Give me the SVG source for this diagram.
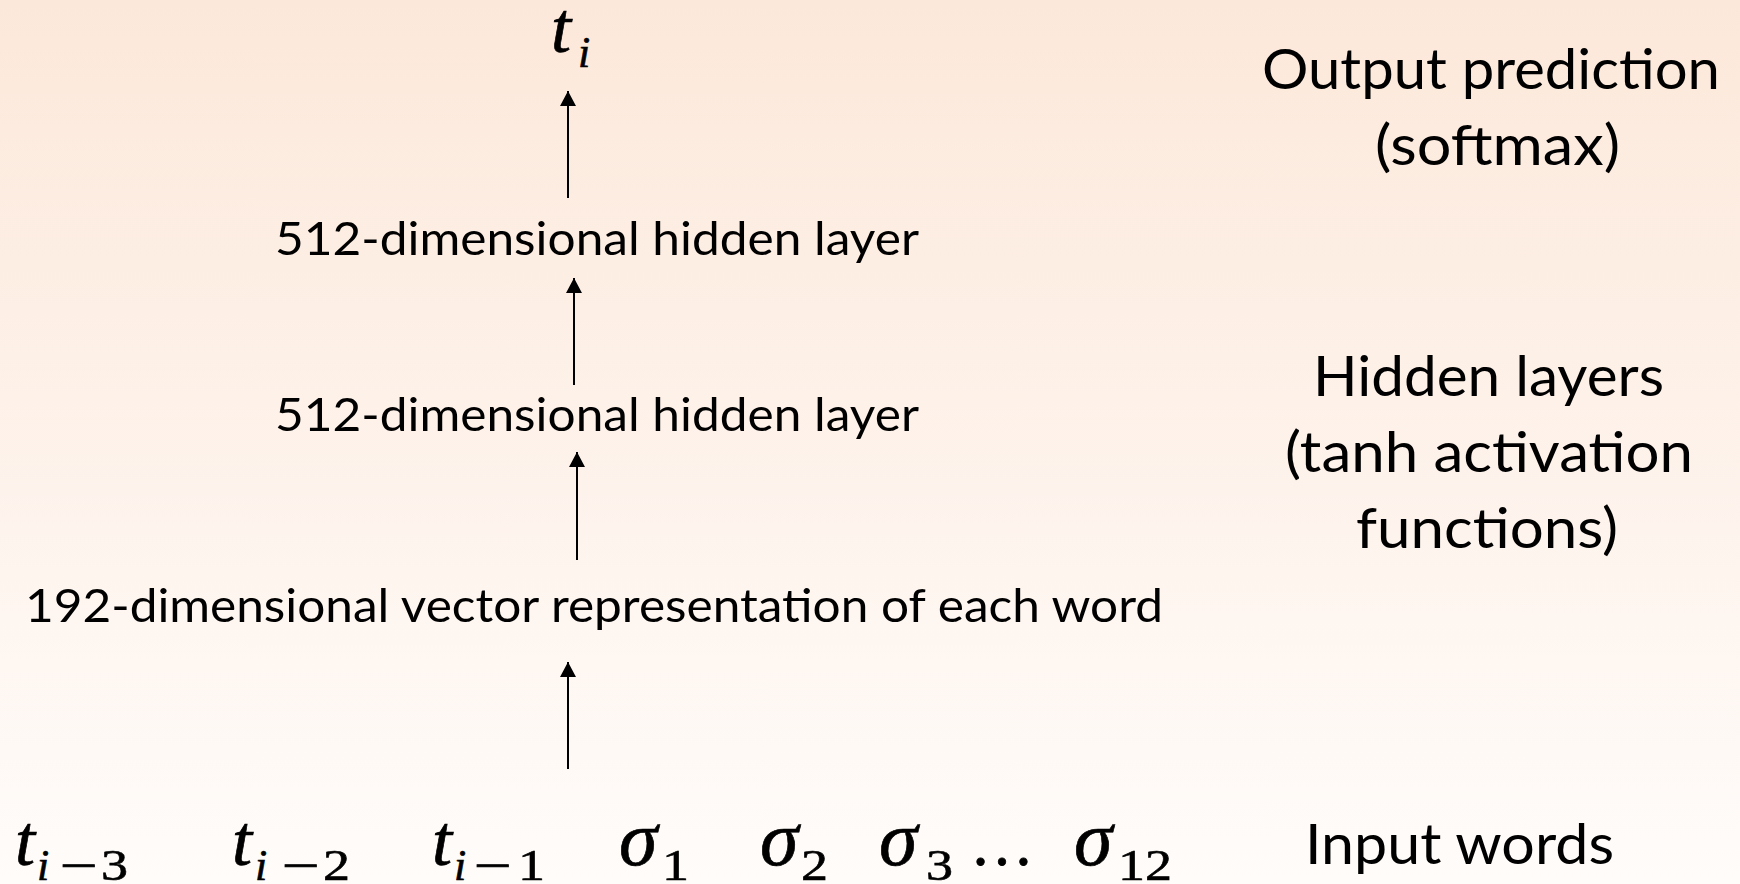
<svg xmlns="http://www.w3.org/2000/svg" width="1740" height="884" viewBox="0 0 1740 884">
  <defs>
    <linearGradient id="bg" x1="0" y1="0" x2="0" y2="1">
      <stop offset="0" stop-color="#FCE8DA"/>
      <stop offset="1" stop-color="#FFFCFA"/>
    </linearGradient>
    <marker id="ah" markerUnits="userSpaceOnUse" markerWidth="16" markerHeight="16" refX="15" refY="8" orient="auto">
      <path d="M0,0 L15,8 L0,16 z" fill="#000"/>
    </marker>
    <style>
      .lbl { font-family: "Lato", "Open Sans", "Liberation Sans", sans-serif; font-size: 47px; fill: #000; }
      .big { font-family: "Lato", "Open Sans", "Liberation Sans", sans-serif; font-size: 56px; fill: #000; }
      .m, .sub, .dots { font-family: "Liberation Serif", "DejaVu Serif", serif; fill: #000; stroke: #000; }
      .m { font-style: italic; font-size: 72px; stroke-width: 0.7; }
      .sg { font-style: italic; font-size: 78px; stroke-width: 0.7; }
      .s { font-size: 44px; font-style: italic; }
      .d { font-size: 44px; font-style: normal; }
      .sub { font-size: 44px; stroke-width: 0.6; }
      .mn { font-size: 46px; font-style: normal; }
      .dots { font-size: 64px; stroke-width: 0.8; }
      .conn line { stroke: #000; stroke-width: 2; marker-end: url(#ah); }
    </style>
  </defs>

  <rect x="0" y="0" width="1740" height="884" fill="url(#bg)"/>

  <g id="output-token">
    <text class="m" x="551" y="52">t</text>
    <text class="sub s" x="578" y="67">i</text>
  </g>

  <g id="hidden-layer-2">
    <text class="lbl" x="275" y="255" textLength="644" lengthAdjust="spacingAndGlyphs">512-dimensional hidden layer</text>
  </g>
  <g id="hidden-layer-1">
    <text class="lbl" x="275" y="431" textLength="644" lengthAdjust="spacingAndGlyphs">512-dimensional hidden layer</text>
  </g>
  <g id="embedding-layer">
    <text class="lbl" x="25" y="622" textLength="1138" lengthAdjust="spacingAndGlyphs">192-dimensional vector representation of each word</text>
  </g>

  <g id="input-words">
    <g id="in-t-i-3">
      <text class="m" x="15" y="865">t</text>
      <text class="sub s" x="37" y="880">i</text>
      <text class="sub mn" x="60" y="881" textLength="38" lengthAdjust="spacingAndGlyphs">−</text>
      <text class="sub d" x="101" y="880" textLength="27" lengthAdjust="spacingAndGlyphs">3</text>
    </g>
    <g id="in-t-i-2">
      <text class="m" x="232" y="865">t</text>
      <text class="sub s" x="255" y="880">i</text>
      <text class="sub mn" x="282" y="881" textLength="38" lengthAdjust="spacingAndGlyphs">−</text>
      <text class="sub d" x="323" y="880" textLength="27" lengthAdjust="spacingAndGlyphs">2</text>
    </g>
    <g id="in-t-i-1">
      <text class="m" x="432" y="865">t</text>
      <text class="sub s" x="454" y="880">i</text>
      <text class="sub mn" x="474" y="881" textLength="38" lengthAdjust="spacingAndGlyphs">−</text>
      <text class="sub d" x="518" y="880" textLength="27" lengthAdjust="spacingAndGlyphs">1</text>
    </g>
    <g id="in-sigma-1">
      <text class="m sg" x="619" y="865">σ</text>
      <text class="sub d" x="662" y="880" textLength="27" lengthAdjust="spacingAndGlyphs">1</text>
    </g>
    <g id="in-sigma-2">
      <text class="m sg" x="760" y="865">σ</text>
      <text class="sub d" x="801" y="880" textLength="27" lengthAdjust="spacingAndGlyphs">2</text>
    </g>
    <g id="in-sigma-3">
      <text class="m sg" x="879" y="865">σ</text>
      <text class="sub d" x="926" y="880" textLength="27" lengthAdjust="spacingAndGlyphs">3</text>
    </g>
    <g id="in-ellipsis">
      <text class="dots" x="970" y="865">…</text>
    </g>
    <g id="in-sigma-12">
      <text class="m sg" x="1074" y="865">σ</text>
      <text class="sub d" x="1118" y="880" textLength="54" lengthAdjust="spacingAndGlyphs">12</text>
    </g>
  </g>

  <g id="side-labels">
    <g id="lbl-output">
      <text class="big" x="1262" y="89" textLength="458" lengthAdjust="spacingAndGlyphs">Output prediction</text>
      <text class="big" x="1375" y="165" textLength="245" lengthAdjust="spacingAndGlyphs">(softmax)</text>
    </g>
    <g id="lbl-hidden">
      <text class="big" x="1313" y="396" textLength="351" lengthAdjust="spacingAndGlyphs">Hidden layers</text>
      <text class="big" x="1285" y="472" textLength="408" lengthAdjust="spacingAndGlyphs">(tanh activation</text>
      <text class="big" x="1356" y="548" textLength="262" lengthAdjust="spacingAndGlyphs">functions)</text>
    </g>
    <g id="lbl-input">
      <text class="big" x="1305" y="864" textLength="309" lengthAdjust="spacingAndGlyphs">Input words</text>
    </g>
  </g>

  <g id="connectors" class="conn">
    <line x1="568" y1="198" x2="568" y2="91"/>
    <line x1="574" y1="385" x2="574" y2="278"/>
    <line x1="577" y1="560" x2="577" y2="452"/>
    <line x1="568" y1="769" x2="568" y2="662"/>
  </g>
</svg>
